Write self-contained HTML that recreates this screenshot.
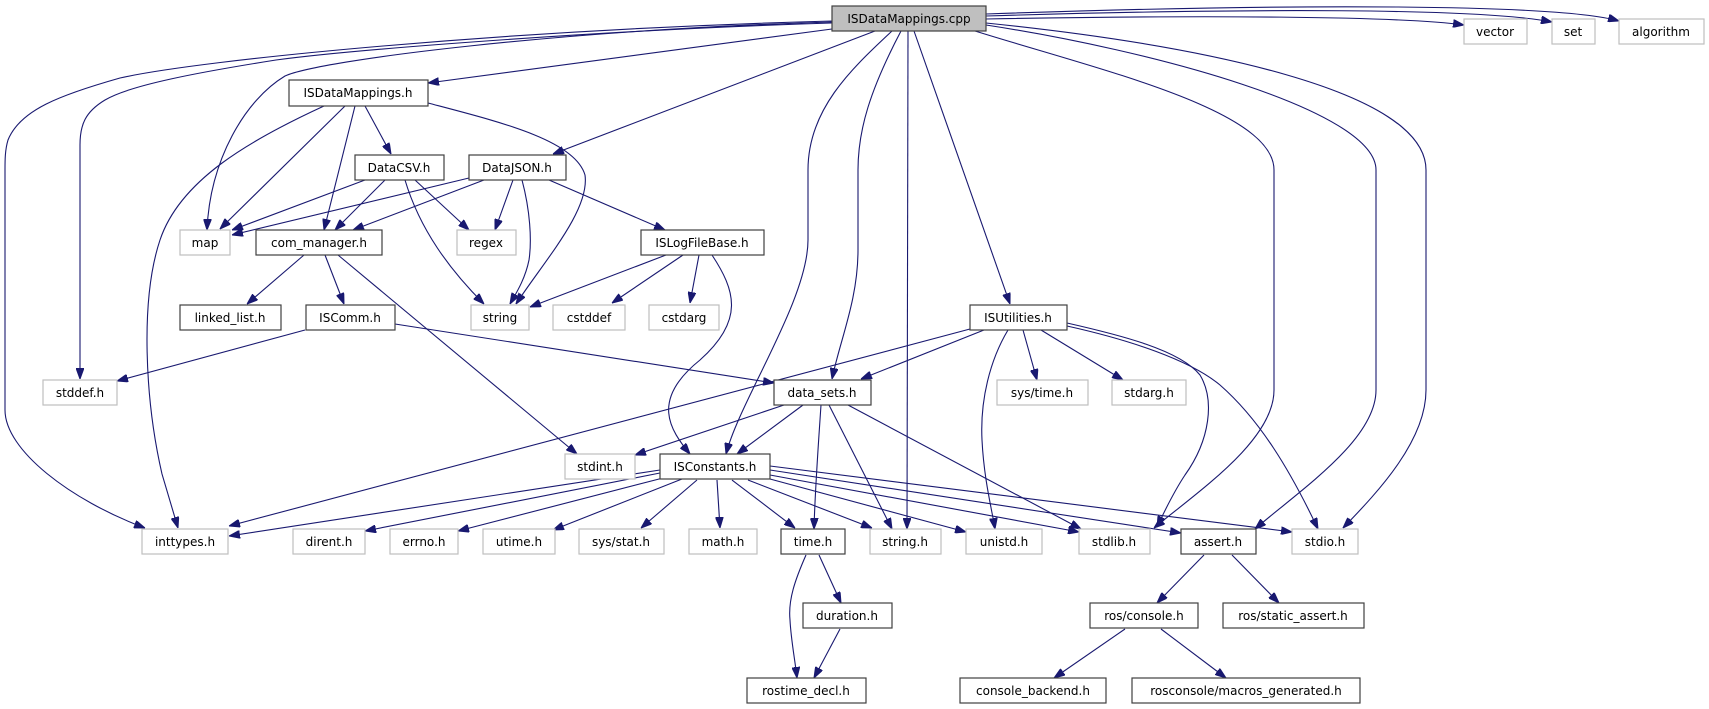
<!DOCTYPE html>
<html><head><meta charset="utf-8"><style>
html,body{margin:0;padding:0;background:#fff;}
svg{display:block;}
text{font-family:"DejaVu Sans","Liberation Sans",sans-serif;font-size:12px;fill:#000;text-anchor:middle;}
.e{fill:none;stroke:#191970;stroke-width:1.1;marker-end:url(#a);}
.nb{fill:#fff;stroke:#404040;stroke-width:1.2;}
.ng{fill:#fff;stroke:#bfbfbf;stroke-width:1.2;}
</style></head><body>
<svg width="1709" height="709" viewBox="0 0 1709 709" xmlns="http://www.w3.org/2000/svg">
<defs><marker id="a" markerUnits="userSpaceOnUse" markerWidth="11" markerHeight="8" refX="11" refY="4" orient="auto"><path d="M0,0 L11,4 L0,8 z" fill="#191970" stroke="#191970"/></marker></defs>

<path class="e" d="M832,29 L428,83"/>
<path class="e" d="M875,31 L553,154"/>
<path class="e" d="M832,22 C560,30 320,60 285,76 C245,100 210,160 207,230"/>
<path class="e" d="M832,23 C600,30 350,50 276,60 C200,72 130,85 105,100 C85,112 80,125 80,145 L80,379"/>
<path class="e" d="M832,21 C500,30 200,60 120,78 C60,95 20,110 8,140 C5,150 5,160 5,170 L5,410 C5,450 70,500 145,528"/>
<path class="e" d="M892,31 C850,70 808,110 808,170 L808,240 C808,300 740,400 726,454"/>
<path class="e" d="M901,31 C870,90 858,130 858,170 L858,250 C858,300 840,340 832,379"/>
<path class="e" d="M908,31 L907,529"/>
<path class="e" d="M914,31 L1010,304"/>
<path class="e" d="M975,31 C1100,70 1274,110 1274,170 L1274,390 C1274,440 1200,490 1154,528"/>
<path class="e" d="M986,25 C1150,50 1376,110 1376,170 L1376,390 C1376,440 1300,490 1255,529"/>
<path class="e" d="M986,23 C1200,45 1426,90 1426,170 L1426,390 C1426,440 1380,490 1343,528"/>
<path class="e" d="M986,19 C1200,15 1400,16 1464,25"/>
<path class="e" d="M986,16 C1250,8 1480,8 1552,22"/>
<path class="e" d="M986,14 C1300,3 1560,4 1619,21"/>

<path class="e" d="M345,106 L220,229"/>
<path class="e" d="M324,106 C250,140 180,180 160,240 C140,300 145,400 162,474 L178,528"/>
<path class="e" d="M355,106 L324,230"/>
<path class="e" d="M365,106 L391,154"/>
<path class="e" d="M428,103 C500,122 575,140 585,175 C590,210 545,260 516,304"/>

<path class="e" d="M365,180 L232,230"/>
<path class="e" d="M385,180 L335,230"/>
<path class="e" d="M415,180 L469,230"/>
<path class="e" d="M405,180 C420,230 450,270 484,304"/>

<path class="e" d="M469,178 L232,235"/>
<path class="e" d="M484,180 L353,230"/>
<path class="e" d="M513,180 L495,230"/>
<path class="e" d="M522,180 C530,210 532,240 529,260 C525,280 515,295 510,304"/>
<path class="e" d="M549,180 L665,230"/>

<path class="e" d="M304,255 L247,304"/>
<path class="e" d="M325,255 L344,304"/>
<path class="e" d="M338,255 L577,454"/>

<path class="e" d="M666,255 L530,307"/>
<path class="e" d="M683,255 L612,303"/>
<path class="e" d="M699,255 L690,303"/>
<path class="e" d="M712,255 C735,290 745,320 700,360 C650,400 670,430 690,454"/>

<path class="e" d="M305,330 L117,381"/>
<path class="e" d="M395,324 L774,383"/>

<path class="e" d="M984,330 L861,379"/>
<path class="e" d="M970,329 L229,526"/>
<path class="e" d="M1023,330 L1037,380"/>
<path class="e" d="M1041,330 L1123,380"/>
<path class="e" d="M1008,330 C990,360 980,400 982,440 C984,480 992,510 995,529"/>
<path class="e" d="M1067,323 C1120,335 1180,350 1200,375 C1215,400 1210,440 1185,475 C1175,490 1165,510 1157,527"/>
<path class="e" d="M1067,326 C1130,340 1190,360 1220,385 C1260,420 1290,470 1318,529"/>

<path class="e" d="M784,405 L635,455"/>
<path class="e" d="M803,405 L737,454"/>
<path class="e" d="M821,405 C818,450 815,490 814,529"/>
<path class="e" d="M829,405 L892,529"/>
<path class="e" d="M848,405 L1081,529"/>

<path class="e" d="M660,470 L229,536"/>
<path class="e" d="M660,473 L365,531"/>
<path class="e" d="M663,478 L458,531"/>
<path class="e" d="M682,479 L553,530"/>
<path class="e" d="M697,480 L641,528"/>
<path class="e" d="M717,480 L720,528"/>
<path class="e" d="M732,480 L795,528"/>
<path class="e" d="M748,480 L872,528"/>
<path class="e" d="M770,479 L966,532"/>
<path class="e" d="M770,475 L1079,532"/>
<path class="e" d="M770,470 L1181,533"/>
<path class="e" d="M770,466 L1292,532"/>

<path class="e" d="M819,555 L841,603"/>
<path class="e" d="M806,555 C795,580 788,600 790,620 C791,640 795,660 797,678"/>
<path class="e" d="M840,629 L814,678"/>
<path class="e" d="M1204,555 L1157,603"/>
<path class="e" d="M1232,555 L1279,603"/>
<path class="e" d="M1125,629 L1054,678"/>
<path class="e" d="M1161,629 L1226,678"/>

<rect x="832" y="6" width="154" height="25" fill="#bfbfbf" stroke="#404040" stroke-width="1.2"/><text x="909" y="23">ISDataMappings.cpp</text>
<rect class="nb" x="289" y="80" width="139" height="26"/><text x="358" y="97">ISDataMappings.h</text>
<rect class="ng" x="1464" y="19" width="63" height="25"/><text x="1495" y="36">vector</text>
<rect class="ng" x="1552" y="19" width="43" height="25"/><text x="1573" y="36">set</text>
<rect class="ng" x="1619" y="19" width="85" height="25"/><text x="1661" y="36">algorithm</text>
<rect class="nb" x="355" y="155" width="89" height="25"/><text x="399" y="172">DataCSV.h</text>
<rect class="nb" x="469" y="155" width="97" height="25"/><text x="517" y="172">DataJSON.h</text>
<rect class="ng" x="180" y="230" width="50" height="25"/><text x="205" y="247">map</text>
<rect class="nb" x="256" y="230" width="126" height="25"/><text x="319" y="247">com_manager.h</text>
<rect class="ng" x="457" y="230" width="59" height="25"/><text x="486" y="247">regex</text>
<rect class="nb" x="641" y="230" width="123" height="25"/><text x="702" y="247">ISLogFileBase.h</text>
<rect class="nb" x="180" y="305" width="101" height="25"/><text x="230" y="322">linked_list.h</text>
<rect class="nb" x="306" y="305" width="89" height="25"/><text x="350" y="322">ISComm.h</text>
<rect class="ng" x="471" y="305" width="58" height="25"/><text x="500" y="322">string</text>
<rect class="ng" x="553" y="305" width="72" height="25"/><text x="589" y="322">cstddef</text>
<rect class="ng" x="649" y="305" width="70" height="25"/><text x="684" y="322">cstdarg</text>
<rect class="nb" x="970" y="305" width="97" height="25"/><text x="1018" y="322">ISUtilities.h</text>
<rect class="ng" x="43" y="380" width="74" height="25"/><text x="80" y="397">stddef.h</text>
<rect class="nb" x="774" y="380" width="97" height="25"/><text x="822" y="397">data_sets.h</text>
<rect class="ng" x="997" y="380" width="91" height="25"/><text x="1042" y="397">sys/time.h</text>
<rect class="ng" x="1112" y="380" width="74" height="25"/><text x="1149" y="397">stdarg.h</text>
<rect class="ng" x="565" y="454" width="70" height="25"/><text x="600" y="471">stdint.h</text>
<rect class="nb" x="660" y="454" width="110" height="25"/><text x="715" y="471">ISConstants.h</text>
<rect class="ng" x="142" y="529" width="86" height="25"/><text x="185" y="546">inttypes.h</text>
<rect class="ng" x="293" y="529" width="72" height="25"/><text x="329" y="546">dirent.h</text>
<rect class="ng" x="390" y="529" width="68" height="25"/><text x="424" y="546">errno.h</text>
<rect class="ng" x="483" y="529" width="72" height="25"/><text x="519" y="546">utime.h</text>
<rect class="ng" x="579" y="529" width="85" height="25"/><text x="621" y="546">sys/stat.h</text>
<rect class="ng" x="689" y="529" width="68" height="25"/><text x="723" y="546">math.h</text>
<rect class="nb" x="781" y="529" width="64" height="25"/><text x="813" y="546">time.h</text>
<rect class="ng" x="870" y="529" width="71" height="25"/><text x="905" y="546">string.h</text>
<rect class="ng" x="966" y="529" width="76" height="25"/><text x="1004" y="546">unistd.h</text>
<rect class="ng" x="1079" y="529" width="71" height="25"/><text x="1114" y="546">stdlib.h</text>
<rect class="nb" x="1181" y="529" width="75" height="25"/><text x="1218" y="546">assert.h</text>
<rect class="ng" x="1292" y="529" width="66" height="25"/><text x="1325" y="546">stdio.h</text>
<rect class="nb" x="803" y="603" width="89" height="25"/><text x="847" y="620">duration.h</text>
<rect class="nb" x="1090" y="603" width="108" height="25"/><text x="1144" y="620">ros/console.h</text>
<rect class="nb" x="1223" y="603" width="141" height="25"/><text x="1293" y="620">ros/static_assert.h</text>
<rect class="nb" x="747" y="678" width="119" height="25"/><text x="806" y="695">rostime_decl.h</text>
<rect class="nb" x="960" y="678" width="146" height="25"/><text x="1033" y="695">console_backend.h</text>
<rect class="nb" x="1132" y="678" width="228" height="25"/><text x="1246" y="695">rosconsole/macros_generated.h</text>
</svg>
</body></html>
